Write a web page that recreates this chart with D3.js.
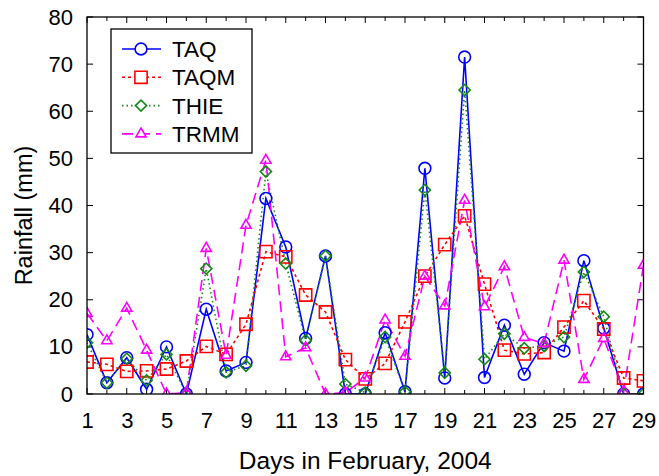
<head>
	<script src="https://d3js.org/d3.v7.min.js"></script>
	<style type="text/css">
		body { margin: 0; background: #fff; }
		text { font-family: "Liberation Sans", Arial, sans-serif; fill: #000; }
	</style>
</head>
<body>
	<script type="text/javascript">
		// rainfall per day, Feb 2004 (mm)
		const days = [1,2,3,4,5,6,7,8,9,10,11,12,13,14,15,16,17,18,19,20,21,22,23,24,25,26,27,28,29]
		const TAQ  = [12.6,2.4,7.7,1.0,10.0,0,18.0,4.9,6.7,41.5,31.2,11.8,29.3,0,0,13.0,0.5,47.9,3.4,71.5,3.5,14.6,4.2,10.9,9.1,28.3,14.0,0,0]
		const TAQM = [6.8,6.3,4.8,4.9,5.3,7.0,10.1,8.4,14.8,30.2,29.1,21.0,17.4,7.3,3.2,6.5,15.3,25.0,31.7,37.8,23.3,9.3,8.5,8.8,14.2,19.8,13.8,3.4,2.8]
		const THIE = [10.9,2.4,7.5,2.9,8.4,0,26.6,4.6,6.0,47.2,27.7,11.4,29.3,2.1,0.3,12.1,0.5,43.3,4.5,64.5,7.4,12.8,9.7,10.2,12.1,25.9,16.4,0,0]
		const TRMM = [17.1,11.3,18.2,9.3,0,0.3,30.9,8.2,35.8,49.6,7.9,9.8,0,0.3,3.4,15.7,8.0,25.0,18.7,41.1,18.5,27.0,12.0,10.7,28.4,3.1,11.8,0.6,27.3]
		const xTicks = [1,3,5,7,9,11,13,15,17,19,21,23,25,27,29]
		const yTicks = [0,10,20,30,40,50,60,70,80]

		const series = [
			{name:'TAQ',  values:TAQ,  color:'#0000ff', dash:null,   shape:'circle'},
			{name:'TAQM', values:TAQM, color:'#ff0000', dash:'3,3',  shape:'square'},
			{name:'THIE', values:THIE, color:'#138a13', dash:'1.5,3', shape:'diamond'},
			{name:'TRMM', values:TRMM, color:'#ff00ff', dash:'11,6', shape:'triangle'}
		]

		const margin = {top:17, right:15.5, bottom:82, left:87}
		const width = 659 - margin.left - margin.right,
			  height = 476 - margin.top - margin.bottom

		const root = d3.select('body').append('svg')
			.attr('width', 659)
			.attr('height', 476)
		const svg = root.append('g')
			.attr('transform', 'translate('+margin.left+','+margin.top+')')

		const x = d3.scaleLinear().domain([1, 29]).range([0, width])
		const y = d3.scaleLinear().domain([0, 80]).range([height, 0])

		svg.append('defs').append('clipPath').attr('id', 'plot')
			.append('rect').attr('width', width).attr('height', height)

		svg.append('g')
			.attr('transform', 'translate(0,'+height+')')
			.call(d3.axisBottom(x).tickValues(xTicks).tickSize(0).tickPadding(18).tickFormat(d3.format('d')))
			.call(g => g.select('.domain').remove())
			.selectAll('text').attr('font-size', 22)
		svg.append('g')
			.call(d3.axisLeft(y).tickValues(yTicks).tickSize(0).tickPadding(14))
			.call(g => g.select('.domain').remove())
			.selectAll('text').attr('font-size', 22)

		// ticks, pointing inward on all four sides
		const ticks = svg.append('g').attr('stroke', '#000').attr('stroke-width', 1)
		days.forEach(d => {
			const len = d % 2 ? 6 : 4
			ticks.append('line').attr('x1', x(d)).attr('x2', x(d)).attr('y1', height).attr('y2', height - len)
			ticks.append('line').attr('x1', x(d)).attr('x2', x(d)).attr('y1', 0).attr('y2', len)
		})
		yTicks.forEach(v => {
			ticks.append('line').attr('x1', 0).attr('x2', 6).attr('y1', y(v)).attr('y2', y(v))
			ticks.append('line').attr('x1', width).attr('x2', width - 6).attr('y1', y(v)).attr('y2', y(v))
		})

		const symbols = {
			circle: d3.symbol(d3.symbolCircle, 110),
			square: d3.symbol(d3.symbolSquare, 150),
			diamond: d3.symbol(d3.symbolSquare, 62),
			triangle: d3.symbol(d3.symbolTriangle2, 75)
		}
		const sym = s => symbols[s.shape]()
		const rot = s => s.shape === 'diamond' ? ' rotate(45)' : ''

		const plot = svg.append('g').attr('clip-path', 'url(#plot)')
		const line = d3.line().x((v, i) => x(days[i])).y(v => y(v))

		series.forEach(s => {
			plot.append('path')
				.attr('d', line(s.values))
				.attr('fill', 'none')
				.attr('stroke', s.color)
				.attr('stroke-width', 1.6)
				.attr('stroke-dasharray', s.dash)
		})
		series.forEach(s => {
			plot.append('g').selectAll('path')
				.data(s.values)
				.enter().append('path')
				.attr('transform', (v, i) => 'translate('+x(days[i])+','+y(v)+')'+rot(s))
				.attr('d', sym(s))
				.attr('fill', 'none')
				.attr('stroke', s.color)
				.attr('stroke-width', 1.6)
		})

		svg.append('rect')
			.attr('width', width).attr('height', height)
			.attr('fill', 'none').attr('stroke', '#000').attr('stroke-width', 1.3)

		// legend
		const legend = root.append('g').attr('transform', 'translate(111,29)')
		legend.append('rect').attr('width', 141).attr('height', 124)
			.attr('fill', '#fff').attr('stroke', '#000').attr('stroke-width', 1.3)
		series.forEach((s, i) => {
			const row = legend.append('g').attr('transform', 'translate(0,'+(20 + i*28.3)+')')
			row.append('line').attr('x1', 11).attr('x2', 50)
				.attr('stroke', s.color).attr('stroke-width', 1.6).attr('stroke-dasharray', s.dash)
			row.append('path').attr('transform', 'translate(30,0)'+rot(s))
				.attr('d', sym(s)).attr('fill', '#fff').attr('stroke', s.color).attr('stroke-width', 1.6)
			row.append('text').attr('x', 61).attr('dy', '0.36em')
				.attr('font-size', 22.5).text(s.name)
		})

		root.append('text')
			.attr('transform', 'translate(32,'+(margin.top + height/2 + 10)+') rotate(-90)')
			.attr('text-anchor', 'middle')
			.attr('font-size', 23.5)
			.text('Rainfall (mm)')
		root.append('text')
			.attr('x', margin.left + width/2)
			.attr('y', 469)
			.attr('text-anchor', 'middle')
			.attr('font-size', 24.5)
			.text('Days in February, 2004')
	</script>
</body>
